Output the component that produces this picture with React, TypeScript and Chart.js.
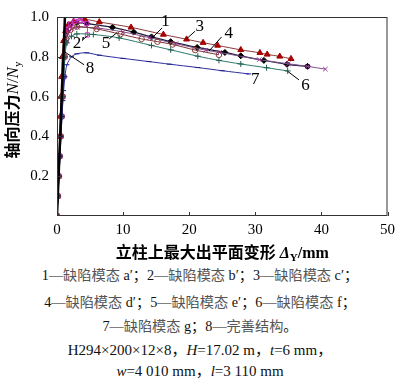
import React, { useEffect, useRef } from "react";
import { Chart, registerables } from "chart.js";

Chart.register(...registerables);

// ---------- data ----------
const xTickValues = [0, 10, 20, 30, 40, 50];
const yTickValues = [0.2, 0.4, 0.6, 0.8, 1.0];

const c1x = [0, 0.12, 0.25, 0.37, 0.5, 0.62, 0.75, 0.87, 1.0, 1.2, 1.5, 2.0, 3.0, 4.5, 8.4, 11.6, 14.3, 17.2, 21.2, 25.4, 27.8, 31.3, 34.8, 37.9];
const c1y = [0, 0.1, 0.2, 0.3, 0.4, 0.5, 0.6, 0.7, 0.8, 0.88, 0.93, 0.96, 0.972, 0.967, 0.948, 0.924, 0.9, 0.876, 0.847, 0.822, 0.805, 0.782, 0.762, 0.752];

const c2x = [0, 0.15, 0.3, 0.45, 0.6, 0.75, 0.9, 1.05, 1.2, 1.4, 1.7, 2.1, 2.7, 3.5, 4.5, 4.6];
const c2y = [0, 0.1, 0.2, 0.3, 0.4, 0.5, 0.6, 0.7, 0.8, 0.88, 0.94, 0.965, 0.978, 0.982, 0.968, 0.91];

const c3x = [0, 0.1, 0.2, 0.3, 0.4, 0.5, 0.6, 0.7, 0.8, 1.0, 1.3, 1.7, 2.5, 4.2, 6.4, 11.2, 16.1, 19.6, 22.1, 24.3, 27.8, 30.7, 31.8, 33.7, 35.4];
const c3y = [0, 0.1, 0.2, 0.3, 0.4, 0.5, 0.6, 0.7, 0.8, 0.88, 0.93, 0.96, 0.978, 0.988, 0.975, 0.948, 0.912, 0.888, 0.871, 0.857, 0.835, 0.82, 0.812, 0.802, 0.79];

const c4x = [0, 0.13, 0.27, 0.4, 0.53, 0.67, 0.8, 0.93, 1.07, 1.3, 1.7, 2.3, 3.1, 6, 10, 14, 18, 22.5, 24.6, 30.6, 35, 37.9, 40.6];
const c4y = [0, 0.1, 0.2, 0.3, 0.4, 0.5, 0.6, 0.7, 0.8, 0.87, 0.915, 0.94, 0.948, 0.945, 0.925, 0.896, 0.866, 0.833, 0.822, 0.786, 0.765, 0.752, 0.738];

const c5x = [0, 0.14, 0.28, 0.42, 0.56, 0.7, 0.84, 0.98, 1.12, 1.4, 2.0, 3.0, 6.0, 9.6, 12.8, 15.2, 17.5, 20.9, 24.5];
const c5y = [0, 0.1, 0.2, 0.3, 0.4, 0.5, 0.6, 0.7, 0.8, 0.89, 0.935, 0.952, 0.94, 0.914, 0.89, 0.876, 0.862, 0.834, 0.81];

const c6x = [0, 0.15, 0.3, 0.45, 0.6, 0.75, 0.9, 1.05, 1.2, 1.5, 2.2, 3.0, 5.5, 9.4, 14.3, 17.2, 21.3, 24.5, 27.8, 31.7, 34.9];
const c6y = [0, 0.1, 0.2, 0.3, 0.4, 0.5, 0.6, 0.7, 0.8, 0.87, 0.903, 0.915, 0.912, 0.895, 0.857, 0.835, 0.803, 0.782, 0.764, 0.745, 0.729];

const c7x = [0, 0.15, 0.3, 0.45, 0.6, 0.75, 0.9, 1.0, 1.2, 1.5, 2.2, 3.0, 4.5, 6.4, 10, 13.9, 17, 21.3, 25, 29];
const c7y = [0, 0.1, 0.2, 0.3, 0.4, 0.5, 0.58, 0.63, 0.7, 0.76, 0.8, 0.815, 0.82, 0.808, 0.792, 0.776, 0.763, 0.746, 0.73, 0.714];

const c8x = [0, 0.3, 0.6, 0.9, 1.2];
const c8y = [0, 0.25, 0.5, 0.75, 1.0];

// curve labels: text anchor and leader line, in data units
const curveLabels = [
  { t: "1", x: 16.4, y: 0.975, x1: 15.9, y1: 0.945, x2: 14.6, y2: 0.902 },
  { t: "3", x: 21.6, y: 0.952, x1: 20.9, y1: 0.929, x2: 19.6, y2: 0.89 },
  { t: "4", x: 26.0, y: 0.919, x1: 24.9, y1: 0.9, x2: 23.0, y2: 0.829 },
  { t: "5", x: 7.4, y: 0.868, x1: 7.9, y1: 0.89, x2: 9.1, y2: 0.922 },
  { t: "2′", x: 3.3, y: 0.868, x1: 3.9, y1: 0.886, x2: 4.8, y2: 0.91 },
  { t: "8", x: 5.0, y: 0.743, x1: 4.1, y1: 0.76, x2: 1.1, y2: 0.826 },
  { t: "7", x: 30.0, y: 0.686, x1: null, y1: null, x2: null, y2: null },
  { t: "6", x: 37.6, y: 0.655, x1: 34.9, y1: 0.727, x2: 36.6, y2: 0.684 },
];

const zip = (xs: number[], ys: number[]) => xs.map((x, i) => ({ x, y: ys[i] }));

const SERIF = '"Liberation Serif", "Times New Roman", serif';
const CJK = '"Noto Sans CJK SC", sans-serif';

type Seg = { s: string; font: string; dy?: number };

function drawSegs(ctx: CanvasRenderingContext2D, segs: Seg[], cx: number, baseline: number) {
  let total = 0;
  const widths = segs.map((g) => {
    ctx.font = g.font;
    const w = ctx.measureText(g.s).width;
    total += w;
    return w;
  });
  let x = cx - total / 2;
  segs.forEach((g, i) => {
    ctx.font = g.font;
    ctx.fillText(g.s, x, baseline + (g.dy || 0));
    x += widths[i];
  });
}

const decorPlugin = {
  id: "decor",
  afterDatasetsDraw(chart: any) {
    const { ctx, chartArea: a, scales } = chart;
    const xs = scales.x;
    const ys = scales.y;
    ctx.save();
    // frame
    ctx.strokeStyle = "#333";
    ctx.lineWidth = 1;
    ctx.strokeRect(a.left + 0.5, a.top + 0.5, a.right - a.left - 1, a.bottom - a.top - 1);
    // inner ticks
    ctx.beginPath();
    xTickValues.forEach((v) => {
      const px = Math.round(xs.getPixelForValue(v)) + 0.5;
      ctx.moveTo(px, a.bottom);
      ctx.lineTo(px, a.bottom - 4);
    });
    yTickValues.forEach((v) => {
      const py = Math.round(ys.getPixelForValue(v)) + 0.5;
      ctx.moveTo(a.left, py);
      ctx.lineTo(a.left + 4, py);
    });
    ctx.stroke();

    // curve labels
    ctx.fillStyle = "#000";
    ctx.strokeStyle = "#000";
    ctx.lineWidth = 1;
    ctx.textAlign = "center";
    ctx.textBaseline = "middle";
    ctx.font = "17px " + SERIF;
    curveLabels.forEach((l) => {
      ctx.fillText(l.t, xs.getPixelForValue(l.x), ys.getPixelForValue(l.y));
      if (l.x1 !== null) {
        ctx.beginPath();
        ctx.moveTo(xs.getPixelForValue(l.x1), ys.getPixelForValue(l.y1));
        ctx.lineTo(xs.getPixelForValue(l.x2), ys.getPixelForValue(l.y2));
        ctx.stroke();
      }
    });

    // axis titles
    ctx.textAlign = "left";
    ctx.textBaseline = "alphabetic";
    const midX = (a.left + a.right) / 2;
    drawSegs(
      ctx,
      [
        { s: "立柱上最大出平面变形", font: "bold 16px " + CJK },
        { s: " Δ", font: "italic bold 16px " + SERIF },
        { s: "Y", font: "bold 11px " + SERIF, dy: 3 },
        { s: "/mm", font: "bold 16px " + SERIF },
      ],
      midX,
      258
    );
    ctx.save();
    ctx.translate(18, 110);
    ctx.rotate(-Math.PI / 2);
    drawSegs(
      ctx,
      [
        { s: "轴向压力", font: "bold 16px " + CJK },
        { s: "N", font: "italic 17px " + SERIF },
        { s: "/", font: "17px " + SERIF },
        { s: "N", font: "italic 17px " + SERIF },
        { s: "y", font: "11px " + SERIF, dy: 3 },
      ],
      0,
      0
    );
    ctx.restore();
    ctx.restore();
  },
};

export default function App() {
  const ref = useRef<HTMLCanvasElement | null>(null);

  useEffect(() => {
    if (!ref.current) return;
    const mk = (
      label: string,
      xs: number[],
      ys: number[],
      color: string,
      ptColor: string,
      style: any,
      radius: number,
      fill: string,
      width = 1
    ) => ({
      label,
      data: zip(xs, ys),
      showLine: true,
      borderColor: color,
      borderWidth: width,
      pointStyle: style,
      pointRadius: radius,
      pointBorderColor: ptColor,
      pointBackgroundColor: fill,
      pointBorderWidth: 1,
      tension: 0.3,
    });
    const chart = new Chart(ref.current, {
      type: "scatter",
      data: {
        datasets: [
          mk("8", c8x, c8y, "#000000", "#000", false, 0, "#000", 2.5),
          mk("7", c7x, c7y, "#2e2e9e", "#1c1c90", "line", 2.5, "#1c1c90"),
          mk("6", c6x, c6y, "#2c7a68", "#1f5e50", "cross", 3, "#1f5e50"),
          mk("5", c5x, c5y, "#7a3434", "#8b3a3a", "circle", 2.8, "rgba(255,255,255,0)"),
          mk("4", c4x, c4y, "#7d4f8c", "#a03aa0", "crossRot", 3.2, "#a03aa0"),
          mk("2", c2x, c2y, "#cc33cc", "#cc33cc", "rect", 3, "rgba(255,255,255,0)"),
          mk("3", c3x, c3y, "#8d3a3a", "#a00000", "triangle", 3.4, "#b00000"),
          mk("1", c1x, c1y, "#1e1e3a", "#000", "rectRot", 3, "#000", 1.2),
        ],
      },
      options: {
        animation: false,
        responsive: false,
        maintainAspectRatio: false,
        layout: { autoPadding: false, padding: { top: 6, right: 8, left: 0, bottom: 0 } },
        plugins: { legend: { display: false }, tooltip: { enabled: false }, title: { display: false } },
        scales: {
          x: {
            type: "linear",
            min: 0,
            max: 50,
            grid: { display: false, drawTicks: false },
            border: { display: false },
            ticks: {
              stepSize: 10,
              padding: 5,
              color: "#000",
              font: { family: SERIF, size: 15 },
              maxRotation: 0,
            },
            afterFit: (s: any) => {
              s.height = 46;
            },
          },
          y: {
            type: "linear",
            min: 0,
            max: 1.0,
            grid: { display: false, drawTicks: false },
            border: { display: false },
            ticks: {
              stepSize: 0.2,
              padding: 8,
              color: "#000",
              font: { family: SERIF, size: 15 },
              callback: (v: any) => (Math.abs(v) < 1e-9 ? "" : Number(v).toFixed(1)),
            },
            afterFit: (s: any) => {
              s.width = 57;
            },
          },
        },
      },
      plugins: [decorPlugin],
    } as any);
    return () => chart.destroy();
  }, []);

  const fam = '"Liberation Serif", "Noto Sans CJK SC", serif';
  const line = (top: number, size: number): React.CSSProperties => ({
    position: "absolute",
    left: 0,
    top,
    width: 400,
    textAlign: "center",
    fontFamily: fam,
    fontSize: size,
    lineHeight: "16px",
    color: "#111",
    whiteSpace: "nowrap",
  });
  const cj: React.CSSProperties = { color: "#555" };

  return (
    <div style={{ position: "absolute", left: 0, top: 0, width: 400, height: 384, background: "#fff", overflow: "hidden" }}>
      <canvas ref={ref} width={400} height={262} style={{ position: "absolute", left: 0, top: 0, width: 400, height: 262 }} />
      <div style={line(267, 14.2)}>
        1—<span style={cj}>缺陷模态</span> a′；2—<span style={cj}>缺陷模态</span> b′；3—<span style={cj}>缺陷模态</span> c′；
      </div>
      <div style={line(294, 14.2)}>
        4—<span style={cj}>缺陷模态</span> d′；5—<span style={cj}>缺陷模态</span> e′；6—<span style={cj}>缺陷模态</span> f；
      </div>
      <div style={line(318, 14.2)}>
        7—<span style={cj}>缺陷模态</span> g；8—<span style={cj}>完善结构</span>。
      </div>
      <div style={line(342, 15)}>
        H294×200×12×8，<i>H</i>=17.02 m，<i>t</i>=6 mm，
      </div>
      <div style={line(363, 15)}>
        <i>w</i>=4 010 mm，<i>l</i>=3 110 mm
      </div>
    </div>
  );
}
